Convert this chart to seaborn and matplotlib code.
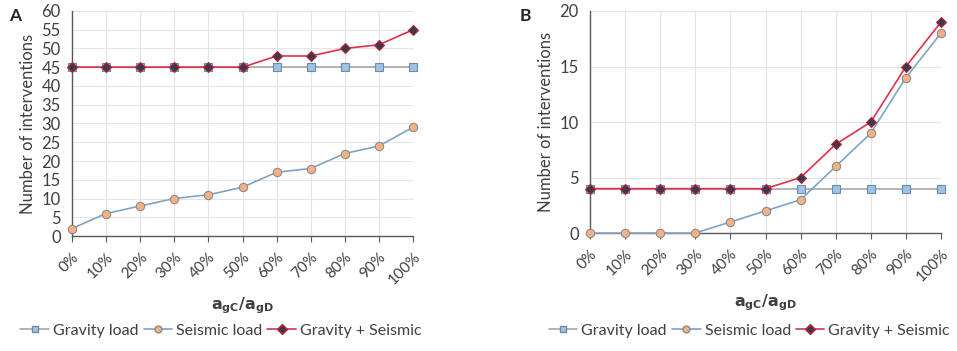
import pandas as pd
import matplotlib.pyplot as plt
import seaborn as sns
from matplotlib.lines import Line2D

sns.set_style('white')
plt.rcParams['font.family'] = ['Lato', 'DejaVu Sans']

# Data
ratios = ['0%', '10%', '20%', '30%', '40%', '50%', '60%', '70%', '80%', '90%', '100%']
gravity_a = [45, 45, 45, 45, 45, 45, 45, 45, 45, 45, 45]
seismic_a = [2, 6, 8, 10, 11, 13, 17, 18, 22, 24, 29]
combined_a = [45, 45, 45, 45, 45, 45, 48, 48, 50, 51, 55]
gravity_b = [4, 4, 4, 4, 4, 4, 4, 4, 4, 4, 4]
seismic_b = [0, 0, 0, 0, 1, 2, 3, 6, 9, 14, 18]
combined_b = [4, 4, 4, 4, 4, 4, 5, 8, 10, 15, 19]

styles = {
    'Gravity load': dict(color='#A6A6A6', marker='s', mfc='#9DC3E6', mec='#6E8CA8', ms=6),
    'Seismic load': dict(color='#7FA3C3', marker='o', mfc='#F4B183', mec='#8C8C8C', ms=6),
    'Gravity + Seismic': dict(color='#E0304A', marker='D', mfc='#3A3A4A', mec='#C0203A', ms=5),
}

fig = plt.figure(figsize=(9.57, 3.51), dpi=100)
ax_a = fig.add_axes([0.0752, 0.3276, 0.3564, 0.6411])
ax_b = fig.add_axes([0.6165, 0.336, 0.3668, 0.6327])

panels = [
    (ax_a, gravity_a, seismic_a, combined_a, 60, 5, 'A', 0.010, 0.231),
    (ax_b, gravity_b, seismic_b, combined_b, 20, 5, 'B', 0.543, 0.783),
]

for ax, grav, seis, comb, ymax, step, tag, tx, lx in panels:
    df = pd.DataFrame({'x': range(len(ratios)), 'Gravity load': grav,
                       'Seismic load': seis, 'Gravity + Seismic': comb})
    for name in ['Gravity load', 'Seismic load', 'Gravity + Seismic']:
        st = styles[name]
        sns.lineplot(data=df, x='x', y=name, ax=ax, color=st['color'], lw=1.2,
                     marker=st['marker'], markerfacecolor=st['mfc'],
                     markeredgecolor=st['mec'], markersize=st['ms'],
                     markeredgewidth=0.8, zorder=3, clip_on=False)
    ax.set_xlim(0, len(ratios) - 1)
    ax.set_ylim(0, ymax)
    ax.set_yticks(range(0, ymax + 1, step))
    ax.set_xticks(range(len(ratios)))
    ax.set_xticklabels(ratios, rotation=45, ha='right', rotation_mode='anchor')
    ax.tick_params(axis='x', length=4, color='#595959', direction='out', bottom=True,
                   labelsize=11, labelcolor='#404040', pad=6)
    ax.tick_params(axis='y', length=0, labelsize=12, labelcolor='#404040', pad=8)
    ax.grid(True, color='#E4E4E4', lw=0.8)
    for s in ['top', 'right']:
        ax.spines[s].set_visible(False)
    for s in ['left', 'bottom']:
        ax.spines[s].set_color('#595959')
        ax.spines[s].set_linewidth(1.0)
    ax.set_ylabel('Number of interventions', fontsize=12, color='#404040')
    ax.set_xlabel(r'$\mathbf{a_{gC}/a_{gD}}$', fontsize=11.5, color='#404040',
                  fontweight='bold', labelpad=6)
    fig.text(tx, 0.955, tag, fontsize=12.5, fontweight='bold', ha='left', va='center')

    handles = [Line2D([0], [0], color=styles[n]['color'], marker=styles[n]['marker'],
                      mfc=styles[n]['mfc'], mec=styles[n]['mec'], ms=5, lw=1.2)
               for n in styles]
    leg = fig.legend(handles, list(styles), loc='center',
                     bbox_to_anchor=(lx, 0.057), ncol=3, frameon=False,
                     fontsize=11.5, handlelength=1.8, columnspacing=0.3,
                     handletextpad=0.25, borderpad=0)
    for t in leg.get_texts():
        t.set_color('#404040')

ax_a.yaxis.labelpad = 4
fig.savefig('out.png', dpi=100)
